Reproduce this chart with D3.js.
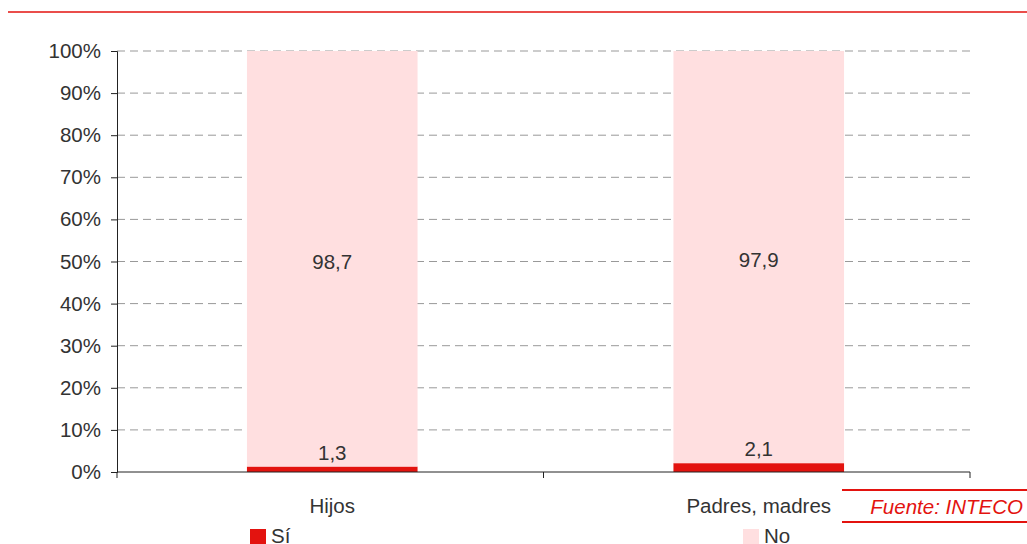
<!DOCTYPE html>
<meta charset="utf-8"/>
<style>
  body { margin: 0; background: #fff; }
  text { font-family: "Liberation Sans", Arial, sans-serif; fill: #333; }
  .grid line { stroke: #999; stroke-dasharray: 8,5; }
</style>
<svg width="1027" height="544"></svg>
<script src="https://d3js.org/d3.v7.min.js"></script>
<script>
  // data
  var categories = ["Hijos", "Padres, madres"];
  var si = [1.3, 2.1];
  var no = [98.7, 97.9];
  var series = ["Sí", "No"];
  var yTicks = [0, 10, 20, 30, 40, 50, 60, 70, 80, 90, 100];

  var svg = d3.select("svg");
  var colors = { "Sí": "#e3130f", "No": "#ffdfe0" };
  var fs = 20.5;

  // top rule
  svg.append("line")
    .attr("x1", 8).attr("x2", 1027).attr("y1", 12).attr("y2", 12)
    .attr("stroke", "#e3130f").attr("stroke-width", 1.5);

  var x = d3.scaleBand().domain(categories).range([119, 972]).paddingInner(0.6).paddingOuter(0.3);
  var xOuter = d3.scaleBand().domain(categories).range([117, 970]);
  var y = d3.scaleLinear().domain([0, 100]).range([472, 51]);

  // dashed grid
  svg.append("g").attr("class", "grid")
    .selectAll("line")
    .data(yTicks.filter(function (d) { return d > 0; }))
    .enter().append("line")
    .attr("x1", 117).attr("x2", 970)
    .attr("y1", function (d) { return y(d); })
    .attr("y2", function (d) { return y(d); });

  var rows = categories.map(function (c, i) { return { cat: c, "Sí": si[i], "No": no[i] }; });
  var stacked = d3.stack().keys(series)(rows);

  svg.append("g").selectAll("g")
    .data(stacked)
    .enter().append("g")
    .attr("fill", function (d) { return colors[d.key]; })
    .selectAll("rect")
    .data(function (d) { return d; })
    .enter().append("rect")
    .attr("x", function (d) { return x(d.data.cat); })
    .attr("width", x.bandwidth())
    .attr("y", function (d) { return y(d[1]); })
    .attr("height", function (d) { return y(d[0]) - y(d[1]); });

  // value labels
  var fmt = function (v) { return String(v).replace(".", ","); };
  rows.forEach(function (r) {
    var cx = x(r.cat) + x.bandwidth() / 2;
    svg.append("text").attr("x", cx).attr("y", y(r["Sí"]) - 7)
      .attr("text-anchor", "middle").attr("font-size", fs).text(fmt(r["Sí"]));
    svg.append("text").attr("x", cx).attr("y", y(r["Sí"] + r["No"] / 2) + 10)
      .attr("text-anchor", "middle").attr("font-size", fs).text(fmt(r["No"]));
  });

  // y axis
  var yAxis = svg.append("g").attr("transform", "translate(117,0)")
    .call(d3.axisLeft(y).tickValues(yTicks).tickSize(6).tickPadding(10)
      .tickFormat(function (d) { return d + "%"; }));
  yAxis.selectAll("text").attr("font-size", fs).attr("font-family", null);
  yAxis.selectAll("line, path").attr("stroke", "#222");

  // x axis
  var xAxis = svg.append("g").attr("transform", "translate(0,472)");
  xAxis.append("line").attr("x1", 117).attr("x2", 970).attr("stroke", "#222");
  [117, 117 + xOuter.step(), 970].forEach(function (t) {
    xAxis.append("line").attr("x1", t).attr("x2", t).attr("y1", 0).attr("y2", 6).attr("stroke", "#222");
  });
  categories.forEach(function (c) {
    xAxis.append("text").attr("x", x(c) + x.bandwidth() / 2).attr("y", 41)
      .attr("text-anchor", "middle").attr("font-size", fs).text(c);
  });

  // legend
  var legX = [250, 743];
  series.forEach(function (s, i) {
    svg.append("rect").attr("x", legX[i]).attr("y", 529).attr("width", 16).attr("height", 16)
      .attr("fill", colors[s]);
    svg.append("text").attr("x", legX[i] + 21).attr("y", 543).attr("font-size", fs).text(s);
  });

  // source
  svg.append("line").attr("x1", 842).attr("x2", 1027).attr("y1", 490).attr("y2", 490)
    .attr("stroke", "#e3130f").attr("stroke-width", 2);
  svg.append("line").attr("x1", 842).attr("x2", 1027).attr("y1", 522).attr("y2", 522)
    .attr("stroke", "#e3130f").attr("stroke-width", 2);
  svg.append("text").attr("x", 1023).attr("y", 514).attr("text-anchor", "end")
    .attr("font-size", fs).attr("font-style", "italic").style("fill", "#e3130f")
    .text("Fuente: INTECO");
</script>
